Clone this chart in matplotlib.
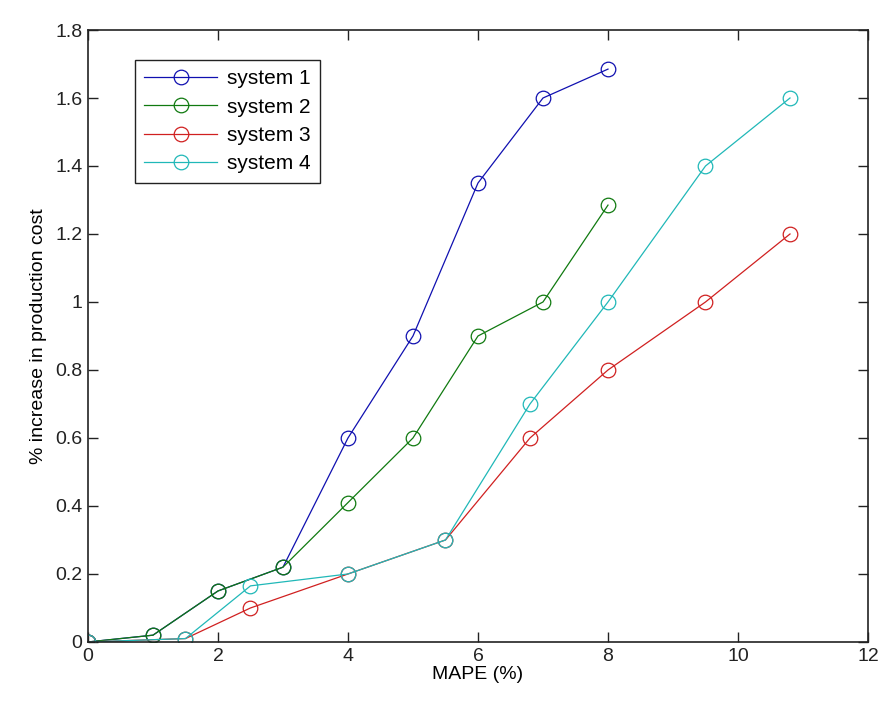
import matplotlib
matplotlib.use("Agg")
import matplotlib.pyplot as plt

# MAPE (%) vs % increase in production cost for each system
mape_12 = [0, 1, 2, 3, 4, 5, 6, 7, 8]
cost_sys1 = [0, 0.02, 0.15, 0.22, 0.60, 0.90, 1.35, 1.60, 1.685]
cost_sys2 = [0, 0.02, 0.15, 0.22, 0.41, 0.60, 0.90, 1.00, 1.285]

mape_34 = [0, 1.5, 2.5, 4, 5.5, 6.8, 8, 9.5, 10.8]
cost_sys3 = [0, 0.01, 0.10, 0.20, 0.30, 0.60, 0.80, 1.00, 1.20]
cost_sys4 = [0, 0.01, 0.165, 0.20, 0.30, 0.70, 1.00, 1.40, 1.60]

labels = ["system 1", "system 2", "system 3", "system 4"]
colors = ["#1010b0", "#107a10", "#d02020", "#20b8b8"]

plt.rcParams["font.family"] = ["Liberation Sans", "DejaVu Sans"]

fig = plt.figure(figsize=(8.85, 7.06), dpi=100)
ax = fig.add_axes([0.0994, 0.0907, 0.8814, 0.8668])

series = [(mape_12, cost_sys1), (mape_12, cost_sys2),
          (mape_34, cost_sys3), (mape_34, cost_sys4)]
for (x, y), lab, c in zip(series, labels, colors):
    ax.plot(x, y, color=c, lw=0.9, marker="o", ms=10.5, mfc="none",
            mec=c, mew=0.9, label=lab)

ax.set_xlim(0, 12)
ax.set_ylim(0, 1.8)
ax.set_xticks(range(0, 13, 2))
ax.set_yticks([0, 0.2, 0.4, 0.6, 0.8, 1.0, 1.2, 1.4, 1.6, 1.8])
ax.set_yticklabels(["0", "0.2", "0.4", "0.6", "0.8", "1", "1.2", "1.4", "1.6", "1.8"])
ax.tick_params(direction="in", top=True, right=True, length=7, width=1,
               labelsize=14, colors="#222222", pad=4)
for s in ax.spines.values():
    s.set_linewidth(1.2)
    s.set_color("#222222")

ax.set_xlabel("MAPE (%)", fontsize=14, labelpad=1)
ax.set_ylabel("% increase in production cost", fontsize=14, labelpad=6)

leg = ax.legend(loc="upper left", bbox_to_anchor=(0.06, 0.951), fontsize=15,
                fancybox=False, framealpha=1, edgecolor="#222222",
                handlelength=3.5, borderpad=0.45, labelspacing=0.45,
                handletextpad=0.5, borderaxespad=0)
leg.get_frame().set_linewidth(1.0)

fig.savefig("out.png", dpi=100)
